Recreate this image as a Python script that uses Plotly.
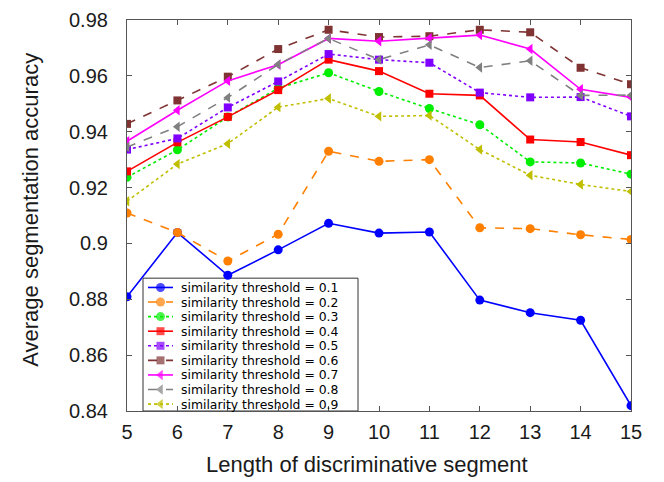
import plotly.graph_objects as go

# ---- data ----
segment_lengths = [5, 6, 7, 8, 9, 10, 11, 12, 13, 14, 15]

thresholds = ["0.1", "0.2", "0.3", "0.4", "0.5", "0.6", "0.7", "0.8", "0.9"]

acc_01 = [0.8809, 0.9039, 0.8886, 0.8977, 0.9072, 0.9037, 0.9041, 0.8797, 0.8752, 0.8725, 0.8419]
acc_02 = [0.9109, 0.9039, 0.8937, 0.9033, 0.9330, 0.9294, 0.9300, 0.9056, 0.9053, 0.9031, 0.9014]
acc_03 = [0.9237, 0.9335, 0.9453, 0.9556, 0.9611, 0.9544, 0.9483, 0.9425, 0.9292, 0.9288, 0.9248]
acc_04 = [0.9258, 0.9362, 0.9453, 0.9549, 0.9658, 0.9617, 0.9536, 0.9530, 0.9372, 0.9363, 0.9316]
acc_05 = [0.9336, 0.9376, 0.9487, 0.9580, 0.9678, 0.9658, 0.9647, 0.9540, 0.9523, 0.9524, 0.9455]
acc_06 = [0.9428, 0.9512, 0.9597, 0.9696, 0.9765, 0.9739, 0.9742, 0.9765, 0.9756, 0.9629, 0.9570]
acc_07 = [0.9366, 0.9477, 0.9582, 0.9640, 0.9734, 0.9724, 0.9735, 0.9746, 0.9696, 0.9552, 0.9523]
acc_08 = [0.9345, 0.9418, 0.9522, 0.9641, 0.9734, 0.9658, 0.9711, 0.9630, 0.9654, 0.9530, 0.9531]
acc_09 = [0.9151, 0.9284, 0.9357, 0.9488, 0.9519, 0.9455, 0.9458, 0.9336, 0.9244, 0.9211, 0.9186]

series_values = [acc_01, acc_02, acc_03, acc_04, acc_05, acc_06, acc_07, acc_08, acc_09]

y_ticks = [0.84, 0.86, 0.88, 0.90, 0.92, 0.94, 0.96, 0.98]
y_tick_labels = ["0.84", "0.86", "0.88", "0.9", "0.92", "0.94", "0.96", "0.98"]

x_title = "Length of discriminative segment"
y_title = "Average segmentation accuracy"

# ---- styles ----
colors = ["#0000FF", "#FF8000", "#00EE00", "#FF0000", "#8000FF",
          "#7F3333", "#FF00FF", "#808080", "#BFBF00"]
dashes = ["solid", "dash", "dot", "solid", "dot", "dash", "solid", "dash", "dot"]
symbols = ["circle", "circle", "circle", "square", "square", "square",
           "triangle-left", "triangle-left", "triangle-left"]

FONT = "Liberation Sans, Arial, sans-serif"
LEGEND_FONT = "DejaVu Sans, Liberation Sans, Arial, sans-serif"
TEXT_COLOR = "#1a1a1a"

fig = go.Figure()

for name, vals, c, d, s in zip(thresholds, series_values, colors, dashes, symbols):
    fig.add_trace(go.Scatter(
        x=segment_lengths, y=vals, mode="lines+markers",
        name="similarity threshold = " + name,
        line=dict(color=c, width=1.6, dash=d),
        marker=dict(color=c, symbol=s, size=9 if s != "square" else 8,
                    line=dict(width=0)),
        showlegend=False,
    ))

# ---- layout geometry (screen pixels; page body has an 8px offset) ----
OFF = 8
W, H = 664, 482
plot_l, plot_r, plot_t, plot_b = 127, 631, 19.5, 411
pw, ph = plot_r - plot_l, plot_b - plot_t


def px_x(p):
    return (p - plot_l) / pw


def px_y(p):
    return (plot_b - p) / ph


# ---- custom compact legend ----
box_l, box_r, box_t, box_b = 143, 358, 278, 411
fig.add_shape(type="rect", xref="paper", yref="paper",
              x0=px_x(box_l), x1=px_x(box_r), y0=px_y(box_b), y1=px_y(box_t),
              line=dict(color="#333333", width=1), fillcolor="white", layer="below")

row0, row_step = 287.3, 14.6
key_x0, key_x1, text_x = 148, 173, 180
for i, (name, c, d, s) in enumerate(zip(thresholds, colors, dashes, symbols)):
    yy = px_y(row0 + i * row_step)
    fig.add_trace(go.Scatter(
        x=[px_x(key_x0), px_x((key_x0 + key_x1) / 2), px_x(key_x1)],
        y=[yy, yy, yy], mode="lines+markers",
        line=dict(color=c, width=1.6, dash=d),
        marker=dict(color=c, symbol=s, size=[0, 9 if s != "square" else 8, 0],
                    line=dict(width=0)),
        xaxis="x2", yaxis="y2", showlegend=False, hoverinfo="skip",
    ))
    fig.add_annotation(xref="paper", yref="paper", x=px_x(text_x), y=yy,
                       xanchor="left", yanchor="middle", showarrow=False,
                       borderpad=0,
                       text="similarity threshold = " + name,
                       font=dict(family=LEGEND_FONT, size=12.4, color="black"))

# ---- axis titles ----
fig.add_annotation(xref="paper", yref="paper", x=px_x(366.7), y=px_y(465),
                   xanchor="center", yanchor="middle", showarrow=False,
                   text=x_title, font=dict(family=FONT, size=22, color=TEXT_COLOR))
fig.add_annotation(xref="paper", yref="paper", x=px_x(31), y=px_y(209.5),
                   xanchor="center", yanchor="middle", showarrow=False, textangle=-90,
                   text=y_title, font=dict(family=FONT, size=22, color=TEXT_COLOR))

axis_common = dict(
    showline=True, linecolor="#555555", linewidth=1.2, mirror="ticks",
    ticks="inside", ticklen=5, tickcolor="#555555", showgrid=False, zeroline=False,
    tickfont=dict(family=FONT, size=20, color=TEXT_COLOR),
)

fig.update_layout(
    width=W, height=H,
    margin=dict(l=plot_l - OFF, r=W + OFF - plot_r, t=plot_t - OFF, b=H + OFF - plot_b,
                autoexpand=False),
    paper_bgcolor="white", plot_bgcolor="white",
    font=dict(family=FONT),
    xaxis=dict(range=[5, 15], tickvals=segment_lengths, ticklabelstandoff=3,
               **axis_common),
    yaxis=dict(range=[0.84, 0.98], tickvals=y_ticks, ticktext=y_tick_labels,
               ticklabelstandoff=14, **axis_common),
    xaxis2=dict(domain=[0, 1], range=[0, 1], overlaying="x", anchor="y2", visible=False),
    yaxis2=dict(domain=[0, 1], range=[0, 1], overlaying="y", anchor="x2", visible=False),
)

fig.write_html("out.html")
